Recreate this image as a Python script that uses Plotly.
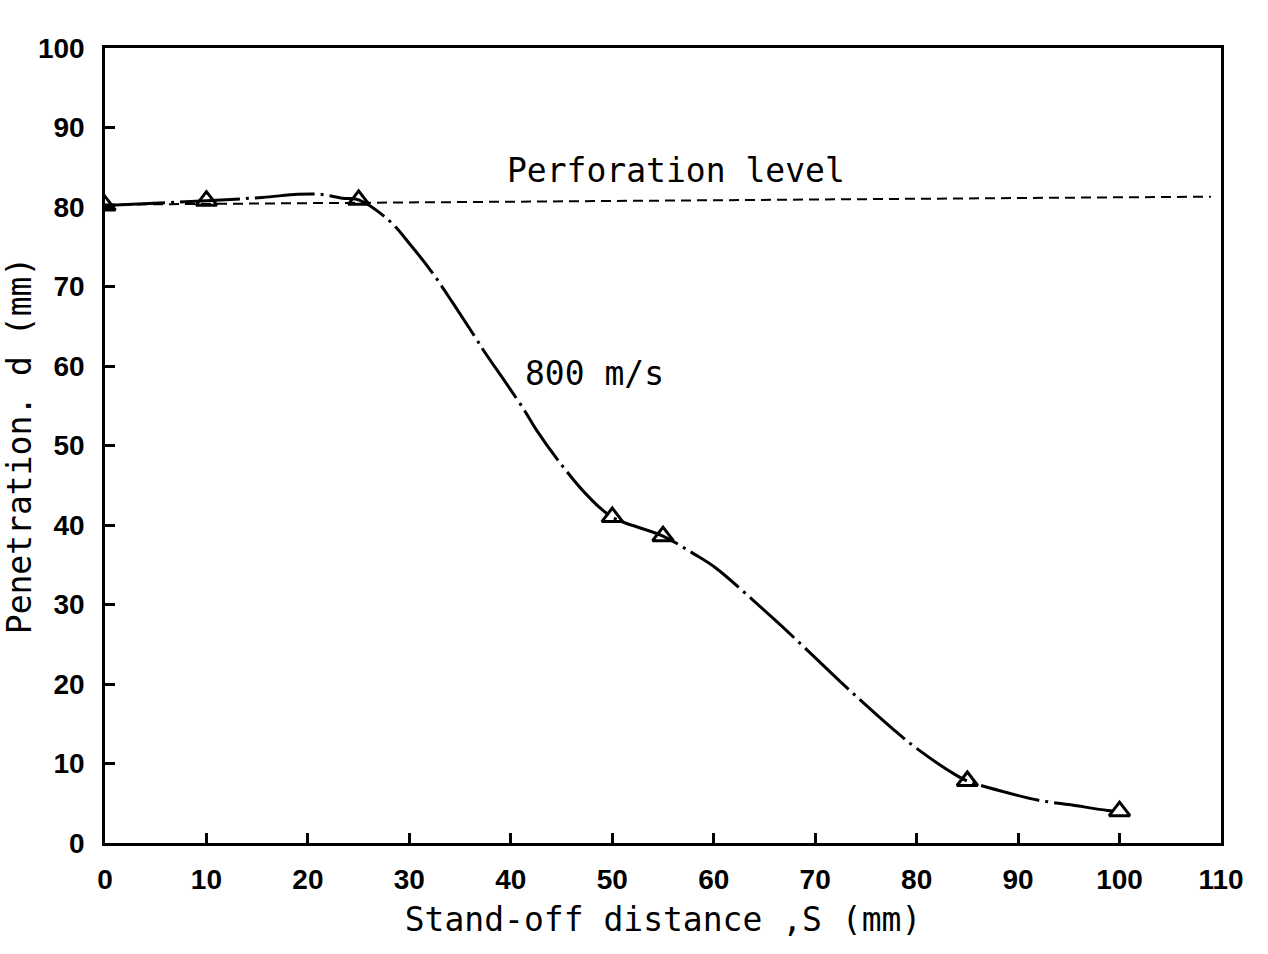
import plotly.graph_objects as go

# Measured points (stand-off distance S, penetration d)
stand_off = [0, 10, 25, 50, 55, 85, 100]
penetration = [80.2, 80.8, 80.9, 41.0, 38.6, 7.8, 4.0]

# Hand-drawn fitted curve through the points
curve_s = [0, 10, 15.5, 19, 21.2, 23.4, 25, 28, 30.2, 32.4, 34.3, 36.4, 37.5,
           39.5, 41.4, 42.5, 45.1, 47.7, 50, 55, 58, 60.2, 64, 66.6, 71, 72.9,
           77.7, 80, 83.8, 85, 88.7, 91.9, 95.2, 98.8, 100]
curve_d = [80.2, 80.8, 81.2, 81.6, 81.6, 81.1, 80.9, 78.3, 75.1, 71.5, 67.9,
           63.8, 61.6, 57.9, 54.3, 52.0, 47.4, 43.5, 41.0, 38.6, 36.4, 34.6,
           30.4, 27.4, 22.1, 19.8, 14.3, 11.9, 8.6, 7.8, 6.4, 5.4, 4.8, 4.1, 4.0]

# Perforation level line
perf_s = [0, 109]
perf_d = [80.3, 81.3]

x_ticks = [0, 10, 20, 30, 40, 50, 60, 70, 80, 90, 100, 110]
y_ticks = [0, 10, 20, 30, 40, 50, 60, 70, 80, 90, 100]

tick_font = dict(family="Liberation Sans Narrow, Liberation Sans, Arial, sans-serif",
                 size=28, color="black", weight="bold")
text_font = dict(family="DejaVu Sans Mono, Liberation Mono, monospace", size=33, color="black")

fig = go.Figure()

fig.add_trace(go.Scatter(
    x=perf_s, y=perf_d, mode="lines",
    line=dict(color="black", width=2, dash="10px,6px"),
    showlegend=False, hoverinfo="skip"))

fig.add_trace(go.Scatter(
    x=curve_s, y=curve_d, mode="lines",
    line=dict(color="black", width=3, dash="60px,6px,3px,6px", shape="spline", smoothing=1.0),
    showlegend=False, hoverinfo="skip"))

fig.add_trace(go.Scatter(
    x=stand_off, y=penetration, mode="markers",
    marker=dict(symbol="triangle-up-open", size=18, color="black", line=dict(width=3, color="black")),
    showlegend=False))

fig.add_annotation(x=56.3, y=84.6, text="Perforation level", showarrow=False,
                   font=text_font, xanchor="center", yanchor="middle")
fig.add_annotation(x=48.2, y=59.0, text="800 m/s", showarrow=False,
                   font=text_font, xanchor="center", yanchor="middle")

fig.update_xaxes(
    range=[0, 110], tickvals=x_ticks, ticktext=[str(v) for v in x_ticks],
    showline=True, linecolor="black", linewidth=2.5, mirror=True,
    ticks="inside", ticklen=10, tickwidth=2.5, tickcolor="black",
    tickfont=tick_font, ticklabelstandoff=10,
    showgrid=False, zeroline=False,
    title=dict(text="Stand-off distance ,S (mm)", font=text_font, standoff=14))

fig.update_yaxes(
    range=[0, 100], tickvals=y_ticks, ticktext=[str(v) for v in y_ticks],
    showline=True, linecolor="black", linewidth=2.5, mirror=True,
    ticks="inside", ticklen=10, tickwidth=2.5, tickcolor="black",
    tickfont=tick_font, ticklabelstandoff=12,
    showgrid=False, zeroline=False,
    title=dict(text="Penetration. d (mm)", font=text_font, standoff=14))

fig.update_layout(
    width=1268, height=954,
    margin=dict(l=105, r=47, t=48, b=111, autoexpand=False),
    paper_bgcolor="white", plot_bgcolor="white")

fig.write_html("out.html")
